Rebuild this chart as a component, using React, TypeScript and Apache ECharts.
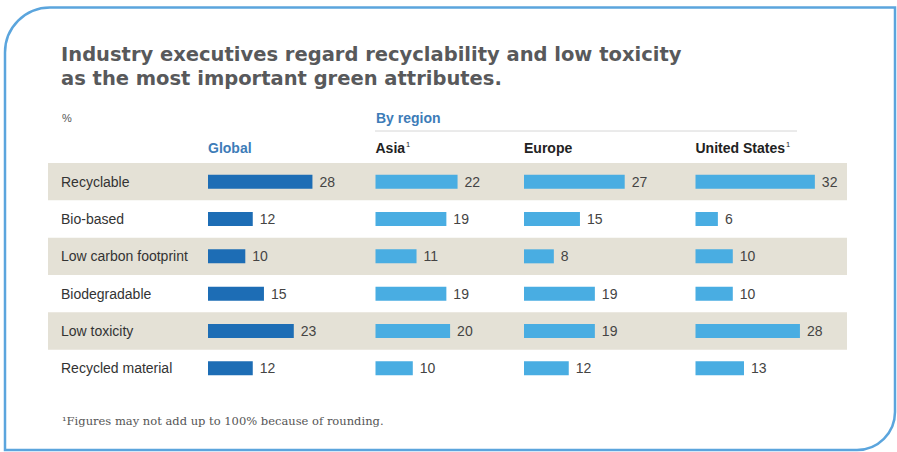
import React, { useEffect, useRef } from "react";
import * as echarts from "echarts";

const categories = [
  "Recyclable",
  "Bio-based",
  "Low carbon footprint",
  "Biodegradable",
  "Low toxicity",
  "Recycled material",
];
const globalValues = [28, 12, 10, 15, 23, 12];
const asiaValues = [22, 19, 11, 19, 20, 10];
const europeValues = [27, 15, 8, 19, 19, 12];
const usValues = [32, 6, 10, 10, 28, 13];
const columnHeaders = ["Global", "Asia", "Europe", "United States"];
const titleText =
  "Industry executives regard recyclability and low toxicity\nas the most important green attributes.";
const footnote = "¹Figures may not add up to 100% because of rounding.";

const FONT = "'Liberation Sans', Arial, Helvetica, sans-serif";

export default function App() {
  const ref = useRef<HTMLDivElement>(null);
  useEffect(() => {
    if (!ref.current) return;
    const chart = echarts.init(ref.current, null, { renderer: "svg" });
    const top = 163;
    const height = 224;
    const axisMax = 40;
    const gridW = 149.2;
    const lefts = [208, 375.5, 524, 695.5];
    const seriesData = [globalValues, asiaValues, europeValues, usValues];
    const colors = ["#1d6db5", "#49ade2", "#49ade2", "#49ade2"];

    const grids: any[] = [{ left: 48, top, width: 799, height }];
    const xAxes: any[] = [{ gridIndex: 0, type: "value", min: 0, max: 1, show: false }];
    const yAxes: any[] = [
      {
        gridIndex: 0,
        type: "category",
        data: categories,
        inverse: true,
        axisLine: { show: false },
        axisTick: { show: false },
        splitLine: { show: false },
        splitArea: {
          show: true,
          areaStyle: { color: ["#e4e1d6", "rgba(255,255,255,0)"] },
        },
        axisLabel: {
          inside: true,
          margin: 13,
          align: "left",
          fontSize: 14,
          color: "#333",
          fontFamily: FONT,
        },
      },
    ];
    const series: any[] = [
      {
        type: "bar",
        xAxisIndex: 0,
        yAxisIndex: 0,
        data: categories.map(() => "-"),
        silent: true,
      },
    ];
    lefts.forEach((l, i) => {
      const gi = i + 1;
      grids.push({ left: l, top, width: gridW, height });
      xAxes.push({ gridIndex: gi, type: "value", min: 0, max: axisMax, show: false });
      yAxes.push({
        gridIndex: gi,
        type: "category",
        data: categories,
        inverse: true,
        show: false,
      });
      series.push({
        type: "bar",
        name: columnHeaders[i],
        xAxisIndex: gi,
        yAxisIndex: gi,
        data: seriesData[i],
        barWidth: 14,
        itemStyle: { color: colors[i] },
        label: {
          show: true,
          position: "right",
          distance: 7,
          fontSize: 14,
          color: "#444",
          fontFamily: FONT,
        },
      });
    });

    const headerStyle = (color: string) => ({
      fontSize: 14,
      fontWeight: "bold",
      fill: color,
      fontFamily: FONT,
      verticalAlign: "middle",
    });
    const supRich = {
      b: { fontSize: 14, fontWeight: "bold", fill: "#222", fontFamily: FONT },
      s: { fontSize: 7.5, fill: "#222", fontFamily: FONT, padding: [0, 0, 7, 1] },
    };

    chart.setOption({
      animation: false,
      backgroundColor: "#ffffff",
      title: {
        text: titleText,
        left: 56,
        top: 37,
        textStyle: {
          fontSize: 19.5,
          fontWeight: "bold",
          color: "#58595b",
          lineHeight: 24,
          fontFamily: "'DejaVu Sans', 'Liberation Sans', sans-serif",
        },
      },
      grid: grids,
      xAxis: xAxes,
      yAxis: yAxes,
      series,
      graphic: [
        {
          type: "rect",
          shape: { x: 5, y: 7.5, width: 890, height: 442.5, r: [45, 0, 38, 0] },
          style: { fill: "none", stroke: "#5ba5dd", lineWidth: 2.5 },
          silent: true,
        },
        {
          type: "text",
          x: 62,
          y: 118,
          style: { text: "%", fontSize: 11, fill: "#555", fontFamily: FONT, verticalAlign: "middle" },
        },
        {
          type: "text",
          x: 376,
          y: 118,
          style: { text: "By region", ...headerStyle("#3d7cb8") },
        },
        {
          type: "line",
          shape: { x1: 375, y1: 131, x2: 797, y2: 131 },
          style: { stroke: "#d6d6d6", lineWidth: 1 },
        },
        {
          type: "text",
          x: lefts[0],
          y: 148,
          style: { text: columnHeaders[0], ...headerStyle("#3d7cb8") },
        },
        {
          type: "text",
          x: lefts[1],
          y: 148,
          style: {
            text: "{b|" + columnHeaders[1] + "}{s|1}",
            verticalAlign: "middle",
            rich: supRich,
          },
        },
        {
          type: "text",
          x: lefts[2],
          y: 148,
          style: { text: columnHeaders[2], ...headerStyle("#222") },
        },
        {
          type: "text",
          x: lefts[3],
          y: 148,
          style: {
            text: "{b|" + columnHeaders[3] + "}{s|1}",
            verticalAlign: "middle",
            rich: supRich,
          },
        },
        {
          type: "text",
          x: 62,
          y: 421,
          style: {
            text: footnote,
            fontSize: 11.5,
            fill: "#555",
            fontFamily: "'DejaVu Serif', 'Liberation Serif', serif",
            verticalAlign: "middle",
          },
        },
      ],
    });
    return () => chart.dispose();
  }, []);
  return (
    <div
      ref={ref}
      style={{ position: "fixed", left: 0, top: 0, width: 897, height: 452 }}
    />
  );
}
